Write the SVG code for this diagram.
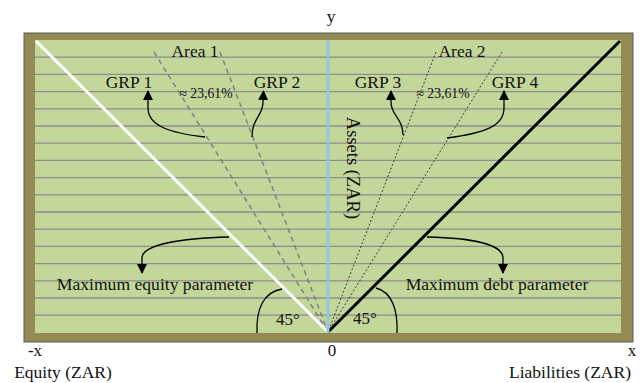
<svg xmlns="http://www.w3.org/2000/svg" width="644" height="383" viewBox="0 0 644 383">
<defs>
<marker id="ah" viewBox="0 0 10 10" refX="9" refY="5" markerWidth="10" markerHeight="10" markerUnits="userSpaceOnUse" orient="auto">
<path d="M0,0 L10,5 L0,10 z" fill="#000"/>
</marker>
<style>
text{font-family:"Liberation Serif","Times New Roman",serif;fill:#111}
.grid line{stroke:#8c8c8c;stroke-width:1.3}
.conn path{fill:none;stroke:#000;stroke-width:1.3}
.arr{marker-end:url(#ah)}
.dl{stroke:#7f7f7f;stroke-width:1.5;stroke-dasharray:5 4;fill:none}
.dr{stroke:#3a3a3a;stroke-width:1;stroke-dasharray:2 2;fill:none}
</style>
</defs>
<rect x="0" y="0" width="644" height="383" fill="#fff"/>
<g id="frame">
<rect x="24" y="33" width="609" height="309" fill="#948a54" stroke="#5a5a5a" stroke-width="1"/>
<rect x="35" y="40" width="586" height="293" fill="#c4d79b"/>
</g>
<g class="grid">
<line x1="35" y1="57.2" x2="621" y2="57.2"/>
<line x1="35" y1="74.4" x2="621" y2="74.4"/>
<line x1="35" y1="91.6" x2="621" y2="91.6"/>
<line x1="35" y1="108.8" x2="621" y2="108.8"/>
<line x1="35" y1="126" x2="621" y2="126"/>
<line x1="35" y1="143.2" x2="621" y2="143.2"/>
<line x1="35" y1="160.4" x2="621" y2="160.4"/>
<line x1="35" y1="177.6" x2="621" y2="177.6"/>
<line x1="35" y1="194.8" x2="621" y2="194.8"/>
<line x1="35" y1="212" x2="621" y2="212"/>
<line x1="35" y1="229.2" x2="621" y2="229.2"/>
<line x1="35" y1="246.4" x2="621" y2="246.4"/>
<line x1="35" y1="263.6" x2="621" y2="263.6"/>
<line x1="35" y1="280.8" x2="621" y2="280.8"/>
<line x1="35" y1="298" x2="621" y2="298"/>
<line x1="35" y1="315.2" x2="621" y2="315.2"/>
</g>
<g id="area1-lines">
<line class="dl" x1="154" y1="52" x2="328" y2="332"/>
<line class="dl" x1="220" y1="52" x2="328" y2="332"/>
</g>
<g id="area2-lines">
<line class="dr" x1="436" y1="52" x2="328" y2="332"/>
<line class="dr" x1="502" y1="52" x2="328" y2="332"/>
</g>
<g id="equity-line">
<line x1="36" y1="41" x2="328" y2="332" stroke="#fff" stroke-width="3"/>
</g>
<g id="debt-line">
<line x1="328" y1="332" x2="620" y2="41" stroke="#000" stroke-width="3"/>
</g>
<g id="y-axis">
<line x1="328" y1="40" x2="328" y2="333" stroke="#92c5de" stroke-width="3"/>
<text x="347" y="168" font-size="18.5" text-anchor="middle" transform="rotate(90 347 168)">Assets (ZAR)</text>
</g>
<g class="conn" id="connectors">
<path class="arr" d="M205,137 C170,133 148,126 148,108 L148,91"/>
<path class="arr" d="M252,137 C252,118 263,116 263,102 L263.5,91"/>
<path class="arr" d="M403,135 C403,118 391,116 391,102 L391,91"/>
<path class="arr" d="M447,138 C485,133 504,126 504,108 L504,91"/>
<path class="arr" d="M229,237 C180,238 142,245 142,258 L142,273"/>
<path class="arr" d="M427,237 C475,238 503,245 503,258 L503,273"/>
<path d="M257,333 C256,310 263,292 282,289"/>
<path d="M376,288 C392,292 398,310 397,333"/>
</g>
<g id="labels">
<text x="331" y="22" font-size="17.5" text-anchor="middle">y</text>
<text x="195" y="57" font-size="17.5" text-anchor="middle">Area 1</text>
<text x="462" y="57" font-size="17.5" text-anchor="middle">Area 2</text>
<text x="129" y="88" font-size="17.5" text-anchor="middle">GRP 1</text>
<text x="277" y="88" font-size="17.5" text-anchor="middle">GRP 2</text>
<text x="378" y="88" font-size="17.5" text-anchor="middle">GRP 3</text>
<text x="515" y="88" font-size="17.5" text-anchor="middle">GRP 4</text>
<text x="206" y="98" font-size="13.7" text-anchor="middle">≈ 23,61%</text>
<text x="443" y="98" font-size="13.7" text-anchor="middle">≈ 23,61%</text>
<text x="155" y="290" font-size="17.6" text-anchor="middle">Maximum equity parameter</text>
<text x="497" y="290" font-size="17.6" text-anchor="middle">Maximum debt parameter</text>
<text x="288" y="325" font-size="17" text-anchor="middle">45°</text>
<text x="365" y="324" font-size="17" text-anchor="middle">45°</text>
<text x="35" y="356" font-size="17" text-anchor="middle">-x</text>
<text x="332" y="356" font-size="17" text-anchor="middle">0</text>
<text x="632" y="356" font-size="17" text-anchor="middle">x</text>
<text x="63" y="378" font-size="17.5" text-anchor="middle">Equity (ZAR)</text>
<text x="570" y="378" font-size="17.5" text-anchor="middle">Liabilities (ZAR)</text>
</g>
</svg>
